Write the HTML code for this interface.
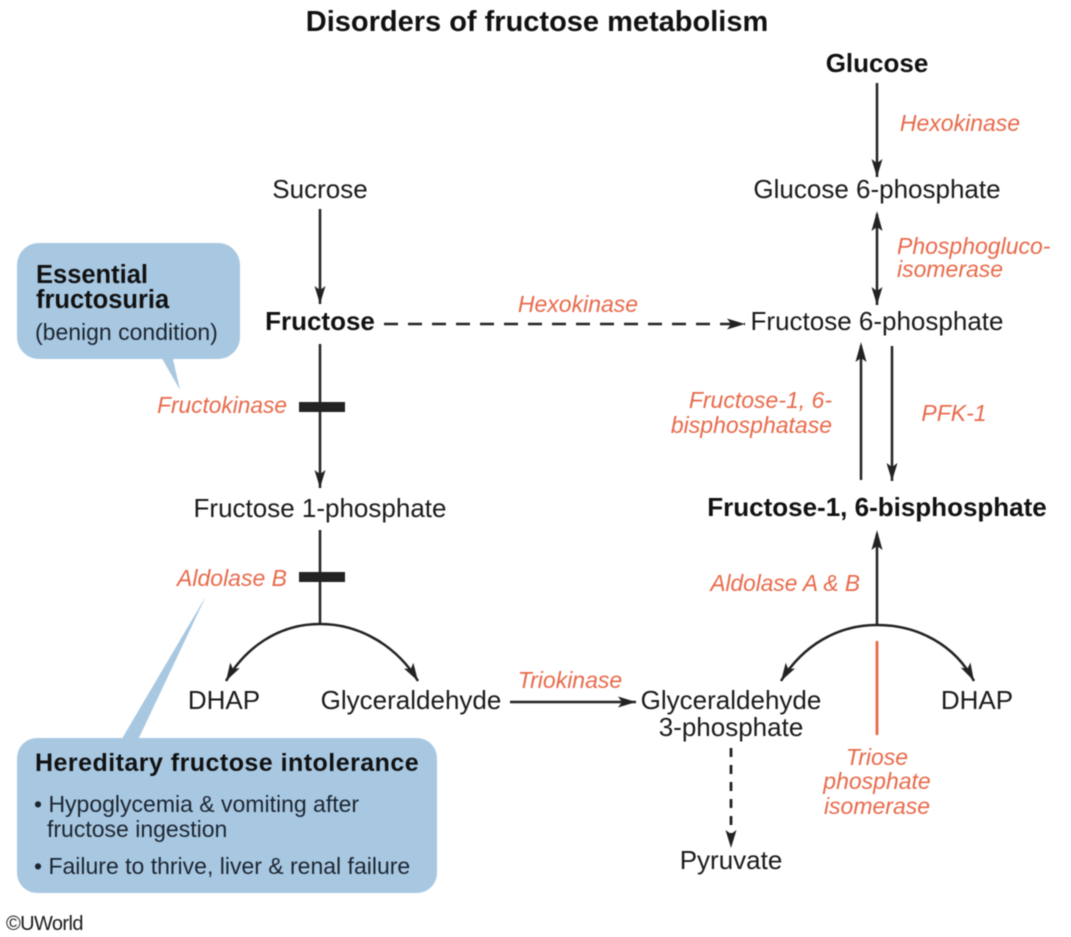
<!DOCTYPE html>
<html><head><meta charset="utf-8"><style>
html,body{margin:0;padding:0;background:#fff;width:1071px;height:937px;overflow:hidden}
svg{display:block;filter:blur(0.6px)}
text{font-family:"Liberation Sans",sans-serif;fill:#1a1a1a;font-size:26px}
.c{text-anchor:middle}
.b{font-weight:bold;fill:#111}
.o{font-style:italic;fill:#e8694a;font-size:23px}
.n{font-size:23px;fill:#1c2530}
</style></head><body>
<svg width="1071" height="937" viewBox="0 0 1071 937" xmlns="http://www.w3.org/2000/svg">
<defs>
<marker id="a" markerUnits="userSpaceOnUse" markerWidth="19" markerHeight="12" refX="18" refY="6" orient="auto" viewBox="0 0 19 12"><path d="M0,0.5 L18,6 L0,11.5 L4,6 Z" fill="#222"/></marker>
</defs>
<text x="537" y="31" class="c b" style="font-size:29px">Disorders of fructose metabolism</text>
<!-- callouts -->
<rect x="17" y="243" width="223" height="116" rx="22" fill="#a8c8e2"/>
<path d="M160,355 L180,390 L172,355 Z" fill="#a8c8e2"/>
<rect x="17" y="738" width="420" height="155" rx="20" fill="#a8c8e2"/>
<path d="M120,742 L206,596 L137,742 Z" fill="#a8c8e2"/>
<text x="36" y="283" class="b" style="font-size:25.5px">Essential</text>
<text x="36" y="308" class="b" style="font-size:25.5px">fructosuria</text>
<text x="35" y="340" class="n">(benign condition)</text>
<text x="35" y="771" class="b" style="font-size:25px;letter-spacing:.47px">Hereditary fructose intolerance</text>
<text x="34" y="812" class="n">• Hypoglycemia &amp; vomiting after</text>
<text x="47" y="837" class="n">fructose ingestion</text>
<text x="34" y="874" class="n">• Failure to thrive, liver &amp; renal failure</text>
<text x="6" y="930" style="font-size:20px;letter-spacing:-.6px">©UWorld</text>
<!-- left labels -->
<text x="320" y="198" class="c">Sucrose</text>
<text x="320" y="330" class="c b">Fructose</text>
<text x="320" y="517" class="c">Fructose 1-phosphate</text>
<text x="224" y="709" class="c">DHAP</text>
<text x="411" y="709" class="c">Glyceraldehyde</text>
<text x="731" y="709" class="c">Glyceraldehyde</text>
<text x="731" y="736" class="c">3-phosphate</text>
<text x="731" y="869" class="c">Pyruvate</text>
<text x="977" y="709" class="c">DHAP</text>
<text x="877" y="72" class="c b">Glucose</text>
<text x="877" y="198" class="c">Glucose 6-phosphate</text>
<text x="877" y="330" class="c">Fructose 6-phosphate</text>
<text x="877" y="516" class="c b">Fructose-1, 6-bisphosphate</text>
<!-- enzymes -->
<text x="960" y="131" class="c o">Hexokinase</text>
<text x="578" y="312" class="c o">Hexokinase</text>
<text x="897" y="254" class="o">Phosphogluco-</text>
<text x="897" y="277" class="o">isomerase</text>
<text x="832" y="408" class="o" text-anchor="end">Fructose-1, 6-</text>
<text x="832" y="433" class="o" text-anchor="end">bisphosphatase</text>
<text x="954" y="421" class="c o">PFK-1</text>
<text x="287" y="413" class="o" style="font-size:22.7px" text-anchor="end">Fructokinase</text>
<text x="287" y="586" class="o" text-anchor="end">Aldolase B</text>
<text x="570" y="688" class="c o">Triokinase</text>
<text x="860" y="591" class="o" style="font-size:22.7px" text-anchor="end">Aldolase A &amp; B</text>
<text x="877" y="765" class="c o">Triose</text>
<text x="877" y="789" class="c o">phosphate</text>
<text x="877" y="814" class="c o">isomerase</text>
<!-- connectors -->
<g stroke="#222" stroke-width="2.5" fill="none">
<line x1="320" y1="209" x2="320" y2="304" marker-end="url(#a)"/>
<line x1="320" y1="344" x2="320" y2="488" marker-end="url(#a)"/>
<line x1="320" y1="530" x2="320" y2="625"/>
<path d="M320,624 C278,624 245,648 226,681" marker-end="url(#a)"/>
<path d="M320,624 C362,624 398,648 418,681" marker-end="url(#a)"/>
<line x1="384" y1="324" x2="745" y2="324" stroke-dasharray="14 10" marker-end="url(#a)"/>
<line x1="510" y1="702" x2="636" y2="702" marker-end="url(#a)"/>
<line x1="877" y1="83" x2="877" y2="177" marker-end="url(#a)"/>
<line x1="877" y1="214" x2="877" y2="305" marker-end="url(#a)"/>
<path d="M877,211 L871.5,231 L877,227 L882.5,231 Z" fill="#222" stroke="none"/>
<line x1="861" y1="480" x2="861" y2="346"/>
<path d="M861,342 L855.5,362 L861,358 L866.5,362 Z" fill="#222" stroke="none"/>
<line x1="892" y1="346" x2="892" y2="481" marker-end="url(#a)"/>
<line x1="877" y1="625" x2="877" y2="534"/>
<path d="M877,530 L871.5,550 L877,546 L882.5,550 Z" fill="#222" stroke="none"/>
<path d="M877,625 C838,625 803,645 781,681" marker-end="url(#a)"/>
<path d="M877,625 C918,625 955,645 974,681" marker-end="url(#a)"/>
<line x1="731" y1="748" x2="731" y2="848" stroke-dasharray="9 8" stroke-width="2.8" marker-end="url(#a)"/>
</g>
<rect x="299" y="402" width="46" height="10" fill="#222"/>
<rect x="299" y="572" width="46" height="10" fill="#222"/>
<line x1="877" y1="641" x2="877" y2="735" stroke="#e8694a" stroke-width="2.8"/>
</svg>
</body></html>
